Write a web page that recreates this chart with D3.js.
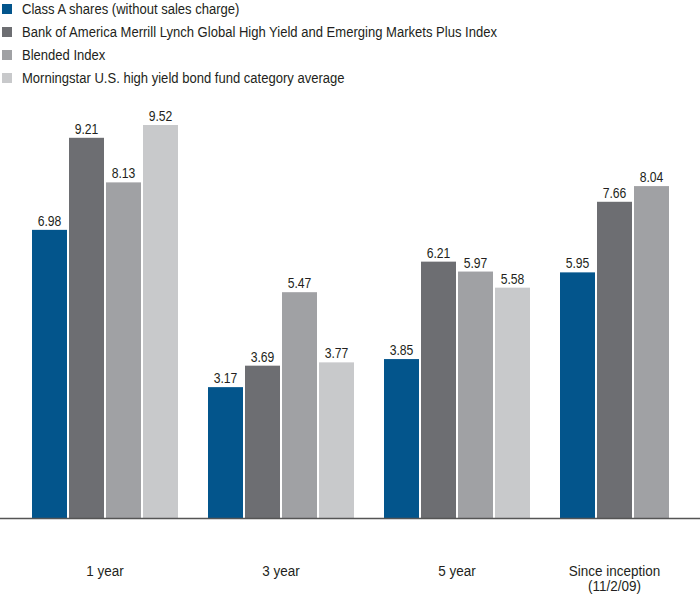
<!DOCTYPE html>
<html><head><meta charset="utf-8">
<script src="https://cdn.jsdelivr.net/npm/d3@7"></script>
<style>body{margin:0;background:#fff}svg{display:block}</style>
</head><body>
<script>
const categories = ["1 year", "3 year", "5 year", "Since inception"];
const categoryLine2 = ["", "", "", "(11/2/09)"];
const seriesNames = [
  "Class A shares (without sales charge)",
  "Bank of America Merrill Lynch Global High Yield and Emerging Markets Plus Index",
  "Blended Index",
  "Morningstar U.S. high yield bond fund category average"
];
const classA = [6.98, 3.17, 3.85, 5.95];
const bofaIndex = [9.21, 3.69, 6.21, 7.66];
const blended = [8.13, 5.47, 5.97, 8.04];
const morningstar = [9.52, 3.77, 5.58, null];
const colors = ["#03558c", "#6d6e72", "#a0a1a4", "#c8c9cb"];

const seriesValues = [classA, bofaIndex, blended, morningstar];
const W = 700, H = 596;
const font = "'Liberation Sans', Arial, sans-serif";
const K = 0.87; // horizontal condensing to mimic the narrow face
const svg = d3.select("body").append("svg").attr("width", W).attr("height", H);

function ctext(parent, x, yPos, str, size, anchor) {
  return parent.append("text")
    .attr("transform", `scale(${K},1)`)
    .attr("x", x / K).attr("y", yPos)
    .attr("text-anchor", anchor || "start")
    .attr("font-family", font).attr("font-size", size)
    .attr("fill", "#231f20").text(str);
}

const baseY = 518;
const y = d3.scaleLinear().domain([0, 9.52]).range([baseY, 125]);
const x0 = d3.scaleBand().domain(categories).range([32, 706]).paddingInner(30/176).paddingOuter(0);
const x1 = d3.scaleBand().domain(d3.range(4)).range([0, x0.bandwidth()]).paddingInner(2/37).paddingOuter(0);

// legend
const leg = svg.append("g");
seriesNames.forEach((name, i) => {
  const gy = 9 + i * 23;
  leg.append("rect").attr("x", 2).attr("y", gy - 5).attr("width", 10).attr("height", 10).attr("fill", colors[i]);
  ctext(leg, 22, gy + 5, name, 15);
});

const groups = svg.append("g").selectAll("g").data(categories).join("g")
  .attr("transform", d => `translate(${x0(d)},0)`);

groups.each(function(cat, ci) {
  const g = d3.select(this);
  const vals = seriesValues.map((s, si) => ({si, v: s[ci]})).filter(d => d.v != null);
  g.selectAll("rect").data(vals).join("rect")
    .attr("x", d => x1(d.si)).attr("width", x1.bandwidth())
    .attr("y", d => y(d.v)).attr("height", d => baseY - y(d.v))
    .attr("fill", d => colors[d.si]);
  vals.forEach(d => {
    ctext(g, x1(d.si) + x1.bandwidth() / 2, y(d.v) - 4, d.v.toFixed(2), 14, "middle");
  });
  const n = vals.length;
  const cx = (x1(n - 1) + x1.bandwidth()) / 2;
  ctext(g, cx, 576, cat, 15.5, "middle");
  if (categoryLine2[ci]) ctext(g, cx, 591.5, categoryLine2[ci], 15.5, "middle");
});

svg.append("line").attr("x1", 0).attr("x2", W).attr("y1", baseY + 0.5).attr("y2", baseY + 0.5)
  .attr("stroke", "#555").attr("stroke-width", 1.5);
</script>
</body></html>
